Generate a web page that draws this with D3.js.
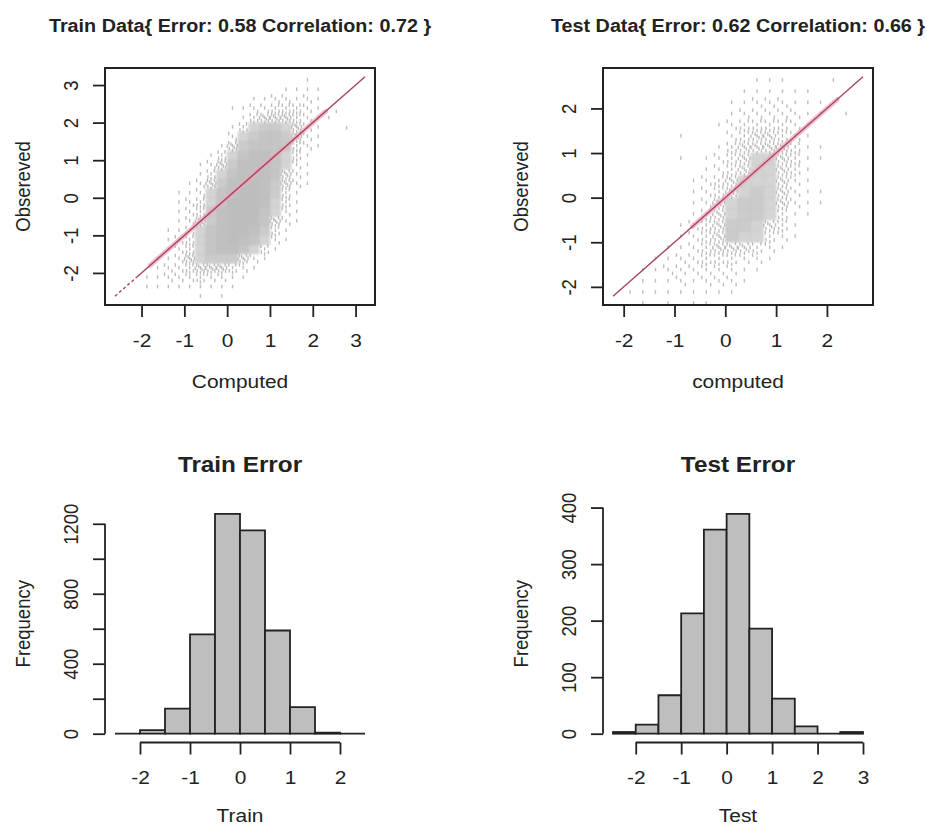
<!DOCTYPE html>
<html><head><meta charset="utf-8">
<script src="https://cdn.jsdelivr.net/npm/d3@7"></script>
<style>html,body{margin:0;padding:0;background:#fff;} svg{display:block;}</style>
</head><body>
<svg id="chart" width="927" height="827"></svg>
<script>
// ================= DATA =================
const trainTitle = "Train Data{ Error: 0.58 Correlation: 0.72 }";
const testTitle  = "Test Data{ Error: 0.62 Correlation: 0.66 }";
const trainXLabel = "Computed";
const testXLabel  = "computed";
const scatterYLabel = "Obsereved";

// data range of the scatter axes (same on x and y) and the y = x reference line
const trainRange = [-2.62, 3.22];
const testRange  = [-2.21, 2.71];
const trainTicks = [-2, -1, 0, 1, 2, 3];
const testTicks  = [-2, -1, 0, 1, 2];
const trainHalo = [-1.8, 2.3];
const testHalo  = [-0.65, 2.2];
const trainDashedTo = -2.1;
const testDashedTo  = null;

// point density: 0.25 x 0.25 cells, level 0..9,
// rows from top (y) to bottom, columns from x = -2.0 to 2.5
const gridStep = 0.25;
const trainGridX0 = -2.0, trainGridYTop = 3.25;
const trainDensity = [
  "000000000000000100",
  "000000000000011110",
  "000000000011221210",
  "000000001122333210",
  "000000000134443211",
  "000000001356654210",
  "000000002567764210",
  "000000014677763210",
  "000000135788753100",
  "000001246888752100",
  "000001357888742100",
  "000012468898642100",
  "000112578998631000",
  "000123579998531000",
  "000123689997521000",
  "000124689997421000",
  "001125789986310000",
  "001235789875210000",
  "001235788753100000",
  "011245666421000000",
  "012234443210000000",
  "112223221100000000",
  "111111111000000000",
  "000001010000000000"
];
const trainExtraPoints = [[2.79, 1.86], [2.55, 2.3]];

const testGridX0 = -2.0, testGridYTop = 2.75;
const testDensity = [
  "000000000011100010",
  "000000000111111000",
  "000000001122211100",
  "000000001222221101",
  "000000012333321000",
  "000010002344321000",
  "000000013444431100",
  "000010123455431100",
  "000000123455431000",
  "000001234555421000",
  "000001234565421100",
  "000001245665421100",
  "000001345665311000",
  "000012346654310000",
  "000012346553210000",
  "000112344432100000",
  "001122333221000000",
  "011222222110000000",
  "011121222100000000",
  "111111111000000000",
  "010101100000000000"
];
const testExtraPoints = [];

// histograms of the errors (bins of width 0.5)
const trainErrStart = -2.5, testErrStart = -2.5, errBinWidth = 0.5;
const trainErrCounts = [0, 20, 143, 568, 1257, 1162, 590, 152, 6, 0];
const testErrCounts  = [3, 16, 68, 213, 361, 389, 186, 62, 13, 0, 3];
const trainHistXTicks = [-2, -1, 0, 1, 2];
const testHistXTicks  = [-2, -1, 0, 1, 2, 3];
const trainHistYTicks  = [0, 200, 400, 600, 800, 1000, 1200];
const trainHistYLabels = ["0", "", "400", "", "800", "", "1200"];
const testHistYTicks   = [0, 100, 200, 300, 400];
const testHistYLabels  = ["0", "100", "200", "300", "400"];
const trainHistTitle = "Train Error", testHistTitle = "Test Error";
const trainHistXLabel = "Train", testHistXLabel = "Test";
const histYLabel = "Frequency";

// ================= STYLE / LAYOUT =================
const INK = "#222";
const PTS = "#bdbdbd";
const BAR = "#bebebe";
const LINE = "#a8445f";
const HALO = "#eaa9ba";
const SX = 1.13;               // the picture is slightly wider than tall
const FONT = "'Liberation Sans', Arial, sans-serif";
const FS = 18.5;
const panels = {
  TL: {x0: 105, x1: 375, y0: 68,  y1: 305},
  TR: {x0: 603, x1: 873, y0: 68,  y1: 305},
  BL: {x0: 105, x1: 375, y0: 505, y1: 742.5},
  BR: {x0: 603, x1: 873, y0: 505, y1: 742.5}
};
// glyph layout of the dashes that stand for points inside a sparse cell
const dashSpots = [[0.5,0.45],[0.15,0.15],[0.85,0.8],[0.8,0.12],[0.2,0.78],[0.5,0.98],
                   [0.02,0.5],[0.65,0.62],[0.35,0.3],[0.95,0.45],[0.32,0.62],[0.65,0.28]];
const dashCount = {1: 1, 2: 3, 3: 6, 4: 10};
const denseOpacity = {5: 0.66, 6: 0.78, 7: 0.88, 8: 0.96, 9: 1};

const svg = d3.select("#chart").attr("font-family", FONT);
const defs = svg.append("defs");
defs.append("filter").attr("id", "soft").attr("x", "-5%").attr("y", "-5%").attr("width", "110%").attr("height", "110%")
  .append("feGaussianBlur").attr("stdDeviation", 1.3);

const ext = r => { const d = r[1] - r[0]; return [r[0] - 0.04 * d, r[1] + 0.04 * d]; };

function label(g, x, y, str, size, bold, rot) {
  return g.append("text")
    .attr("transform", `translate(${x},${y}) scale(${SX},1)` + (rot ? " rotate(-90)" : ""))
    .attr("text-anchor", "middle")
    .attr("font-size", size)
    .attr("font-weight", bold ? "bold" : null)
    .attr("fill", INK)
    .text(str);
}

function xAxis(g, scale, ticks, yPos, labels) {
  const ax = d3.axisBottom(scale).tickValues(ticks).tickSize(12).tickSizeOuter(0)
    .tickFormat((d, i) => labels ? labels[i] : String(d));
  const a = g.append("g").attr("transform", `translate(0,${yPos})`).call(ax)
    .attr("font-size", null).attr("font-family", null);
  a.select(".domain").remove();
  a.selectAll(".tick line").attr("stroke", INK).attr("stroke-width", 1.8);
  a.selectAll(".tick text").attr("y", 41.6).attr("dy", null).attr("fill", INK)
    .attr("font-size", FS).attr("transform", `scale(${SX},1)`);
  return a;
}

function yAxis(g, scale, ticks, xPos, labels) {
  const ax = d3.axisLeft(scale).tickValues(ticks).tickSize(12).tickSizeOuter(0)
    .tickFormat((d, i) => labels ? labels[i] : String(d));
  const a = g.append("g").attr("transform", `translate(${xPos},0)`).call(ax)
    .attr("font-size", null).attr("font-family", null);
  a.select(".domain").remove();
  a.selectAll(".tick line").attr("stroke", INK).attr("stroke-width", 1.8);
  a.selectAll(".tick text").attr("x", 0).attr("y", 0).attr("dy", null)
    .attr("text-anchor", "middle").attr("fill", INK).attr("font-size", FS)
    .attr("transform", `translate(-27.5,0) scale(${SX},1) rotate(-90)`);
  return a;
}

function scatterPanel(id, box, range, ticks, grid, gx0, gyTop, extras, halo, dashedTo, title, xlab) {
  const lim = ext(range);
  const xs = d3.scaleLinear().domain(lim).range([box.x0, box.x1]);
  const ys = d3.scaleLinear().domain(lim).range([box.y1, box.y0]);
  const g = svg.append("g");
  defs.append("clipPath").attr("id", "clip" + id).append("rect")
    .attr("x", box.x0).attr("y", box.y0).attr("width", box.x1 - box.x0).attr("height", box.y1 - box.y0);
  const plot = g.append("g").attr("clip-path", `url(#clip${id})`);
  const dense = plot.append("g").attr("filter", "url(#soft)");
  const sparse = plot.append("g");

  grid.forEach((row, ri) => {
    const top = gyTop - ri * gridStep, bot = top - gridStep;
    [...row].forEach((ch, ci) => {
      const L = +ch;
      if (!L) return;
      const left = gx0 + ci * gridStep, right = left + gridStep;
      const px0 = xs(left), px1 = xs(right), py0 = ys(top), py1 = ys(bot);
      if (L >= 5) {
        dense.append("rect").attr("x", px0 - 0.3).attr("y", py0 - 0.3)
          .attr("width", px1 - px0 + 0.6).attr("height", py1 - py0 + 0.6)
          .attr("fill", PTS).attr("fill-opacity", denseOpacity[L]);
      } else {
        dashSpots.slice(0, dashCount[L]).forEach(s => {
          const cx = px0 + s[0] * (px1 - px0), cy = py0 + s[1] * (py1 - py0);
          sparse.append("rect").attr("x", cx - 0.7).attr("y", cy - 1.8)
            .attr("width", 1.4).attr("height", 3.6).attr("fill", PTS);
        });
      }
    });
  });
  extras.forEach(p => {
    sparse.append("rect").attr("x", xs(p[0]) - 0.7).attr("y", ys(p[1]) - 1.8)
      .attr("width", 1.4).attr("height", 3.6).attr("fill", PTS);
  });

  // y = x reference line
  plot.append("line").attr("x1", xs(halo[0])).attr("y1", ys(halo[0]))
    .attr("x2", xs(halo[1])).attr("y2", ys(halo[1]))
    .attr("stroke", HALO).attr("stroke-width", 5).attr("stroke-opacity", 0.7).attr("stroke-linecap", "round");
  const solidFrom = dashedTo == null ? range[0] : dashedTo;
  if (dashedTo != null) {
    plot.append("line").attr("x1", xs(range[0])).attr("y1", ys(range[0]))
      .attr("x2", xs(dashedTo)).attr("y2", ys(dashedTo))
      .attr("stroke", LINE).attr("stroke-width", 1.4).attr("stroke-dasharray", "3,2.5");
  }
  plot.append("line").attr("x1", xs(solidFrom)).attr("y1", ys(solidFrom))
    .attr("x2", xs(range[1])).attr("y2", ys(range[1]))
    .attr("stroke", LINE).attr("stroke-width", 1.4);

  // box + axes
  g.append("rect").attr("x", box.x0).attr("y", box.y0)
    .attr("width", box.x1 - box.x0).attr("height", box.y1 - box.y0)
    .attr("fill", "none").attr("stroke", INK).attr("stroke-width", 2);
  xAxis(g, xs, ticks, box.y1);
  yAxis(g, ys, ticks, box.x0);

  const cx = (box.x0 + box.x1) / 2, cy = (box.y0 + box.y1) / 2;
  label(g, cx, 31.7, title, 17.5, true);
  label(g, cx, box.y1 + 83, xlab, FS);
  label(g, box.x0 - 75.5, cy, scatterYLabel, FS, false, true);
}

function histPanel(box, start, counts, xTicks, yTicks, yLabels, title, xlab) {
  const end = start + counts.length * errBinWidth;
  const xs = d3.scaleLinear().domain(ext([start, end])).range([box.x0, box.x1]);
  const ys = d3.scaleLinear().domain(ext([0, d3.max(counts)])).range([box.y1, box.y0]);
  const g = svg.append("g");
  g.selectAll("path.bar").data(counts).join("path").attr("class", "bar")
    .attr("d", (c, i) => {
      const a = xs(start + i * errBinWidth), b = xs(start + (i + 1) * errBinWidth);
      return `M${a},${ys(0)}H${b}V${ys(c)}H${a}Z`;
    })
    .attr("fill", BAR).attr("stroke", INK).attr("stroke-width", 1.8).attr("stroke-linejoin", "miter");

  const xa = xAxis(g, xs, xTicks, box.y1);
  xa.append("line").attr("x1", xs(xTicks[0])).attr("x2", xs(xTicks[xTicks.length - 1]))
    .attr("y1", 0).attr("y2", 0).attr("stroke", INK).attr("stroke-width", 1.8);
  const ya = yAxis(g, ys, yTicks, box.x0, yLabels);
  ya.append("line").attr("y1", ys(yTicks[0])).attr("y2", ys(yTicks[yTicks.length - 1]))
    .attr("x1", 0).attr("x2", 0).attr("stroke", INK).attr("stroke-width", 1.8);

  const cx = (box.x0 + box.x1) / 2, cy = (box.y0 + box.y1) / 2;
  label(g, cx, 471.5, title, 21.5, true);
  label(g, cx, 822, xlab, FS);
  label(g, box.x0 - 75.5, cy, histYLabel, FS, false, true);
}

scatterPanel("tl", panels.TL, trainRange, trainTicks, trainDensity, trainGridX0, trainGridYTop,
  trainExtraPoints, trainHalo, trainDashedTo, trainTitle, trainXLabel);
scatterPanel("tr", panels.TR, testRange, testTicks, testDensity, testGridX0, testGridYTop,
  testExtraPoints, testHalo, testDashedTo, testTitle, testXLabel);
histPanel(panels.BL, trainErrStart, trainErrCounts, trainHistXTicks, trainHistYTicks, trainHistYLabels,
  trainHistTitle, trainHistXLabel);
histPanel(panels.BR, testErrStart, testErrCounts, testHistXTicks, testHistYTicks, testHistYLabels,
  testHistTitle, testHistXLabel);
</script>
</body></html>
